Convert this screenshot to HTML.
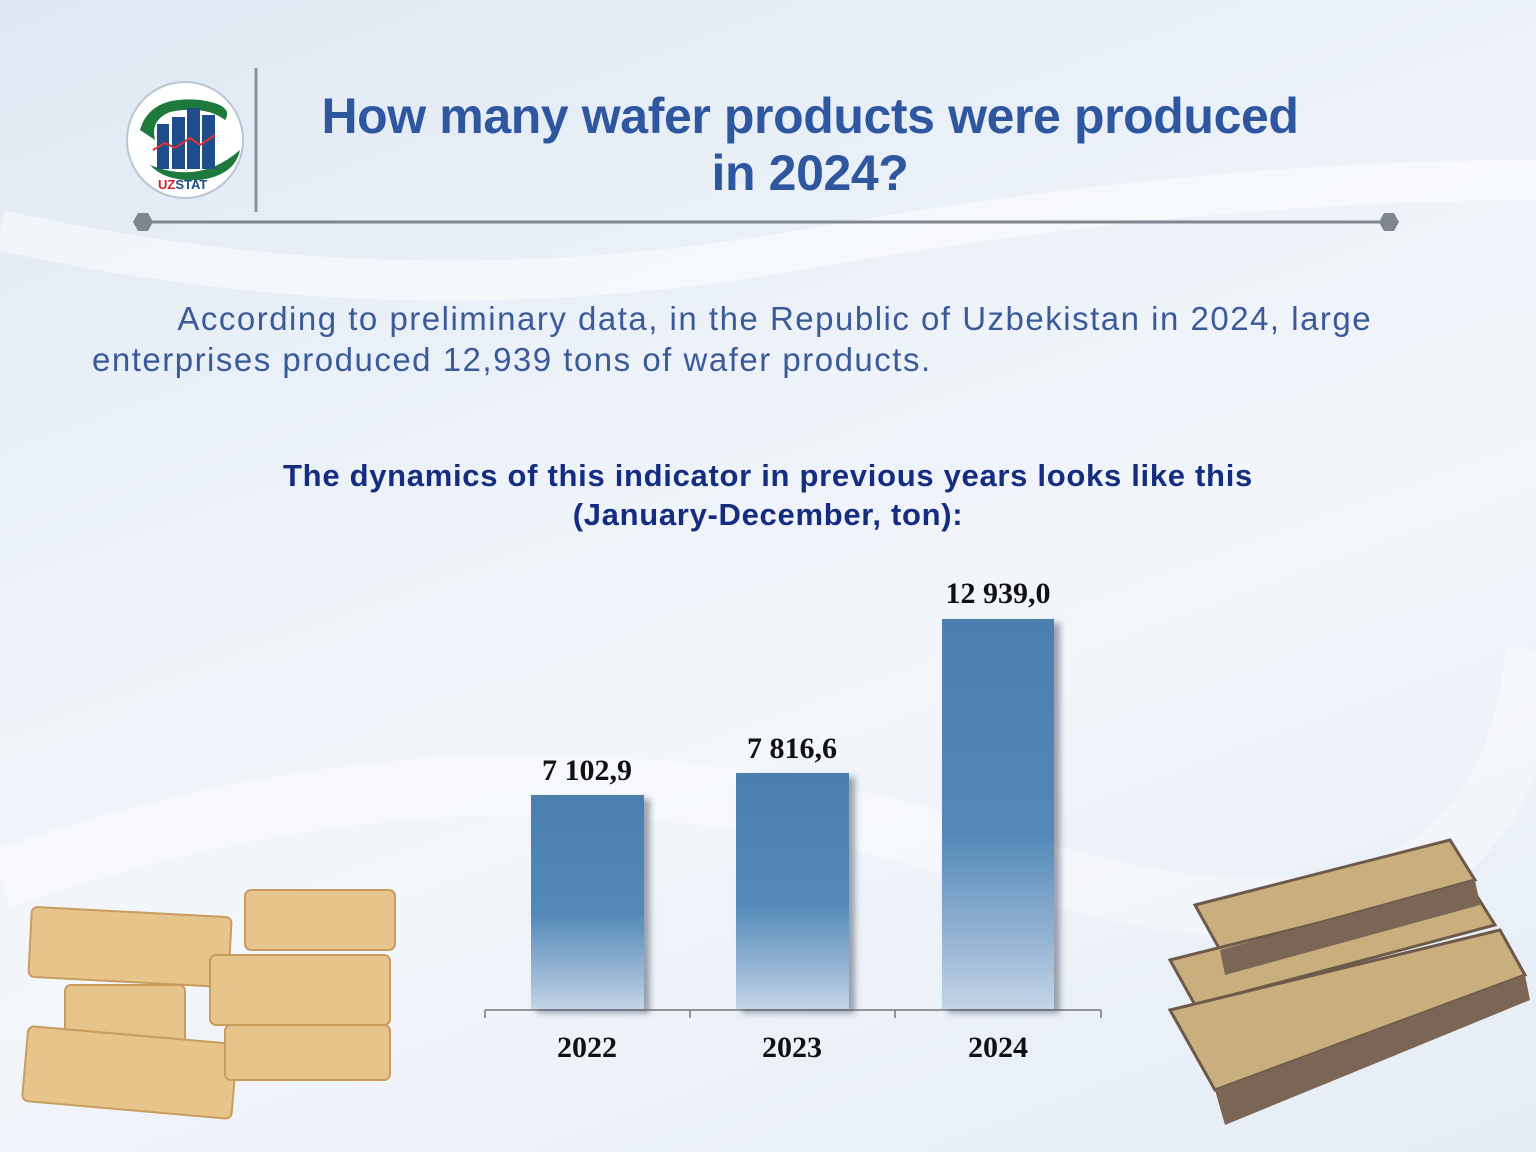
<!DOCTYPE html>
<html><head><meta charset="utf-8"><style>
body{margin:0;width:1536px;height:1152px;overflow:hidden;background:linear-gradient(160deg,#dfe8f3 0%,#eef3f9 40%,#f3f6fb 60%,#e4ecf5 100%);position:relative;font-family:"Liberation Sans",sans-serif}
.a{position:absolute}
.bar{position:absolute;background:linear-gradient(180deg,#4a7fae 0%,#5289b9 55%,#9cb9d6 85%,#c3d5e7 100%);box-shadow:6px 4px 6px rgba(80,90,110,.55)}
.lab{position:absolute;font-family:"Liberation Serif",serif;font-weight:bold;font-size:30px;color:#111;text-align:center;width:200px}
</style></head><body>
<svg class="a" style="left:0;top:0" width="1536" height="1152">
<path d="M0 230 Q400 320 800 250 T1536 180" stroke="#fff" stroke-opacity=".5" fill="none" stroke-width="40"/>
<path d="M0 880 Q500 700 1000 860 T1536 650" stroke="#fff" stroke-opacity=".35" fill="none" stroke-width="60"/>
<circle cx="185" cy="140" r="58" fill="#fff" stroke="#b8c6d4" stroke-width="2"/>
<path d="M140 130 Q150 95 200 100 Q235 105 225 120 Q205 105 170 112 Q150 120 155 140Z" fill="#1e7a3c"/>
<path d="M150 165 Q200 185 240 150 Q235 175 200 180 Q165 182 150 165Z" fill="#1e7a3c"/>
<rect x="157" y="124" width="12" height="45" fill="#1f4d8c"/><rect x="172" y="117" width="13" height="52" fill="#1f4d8c"/><rect x="187" y="108" width="13" height="61" fill="#1f4d8c"/><rect x="202" y="115" width="13" height="54" fill="#1f4d8c"/>
<polyline points="153,150 165,143 175,148 190,138 200,145 215,135" stroke="#d33" stroke-width="2" fill="none"/>
<text x="158" y="189" font-size="13" font-weight="bold" fill="#d02030" font-family="Liberation Sans">UZ<tspan fill="#1f4d8c">STAT</tspan></text>
<line x1="256" y1="68" x2="256" y2="212" stroke="#8a929c" stroke-width="3"/>
<line x1="143" y1="222" x2="1389" y2="222" stroke="#7f868e" stroke-width="3"/>
<polygon points="133,222 138,213 148,213 153,222 148,231 138,231" fill="#7f868e"/>
<polygon points="1379,222 1384,213 1394,213 1399,222 1394,231 1384,231" fill="#7f868e"/>
<line x1="485" y1="1010" x2="1101" y2="1010" stroke="#777" stroke-width="1.5"/>
<g stroke="#777" stroke-width="1.5"><line x1="485" y1="1010" x2="485" y2="1018"/><line x1="690" y1="1010" x2="690" y2="1018"/><line x1="895" y1="1010" x2="895" y2="1018"/><line x1="1101" y1="1010" x2="1101" y2="1018"/></g>
<g fill="#e6c48c" stroke="#c99d5e" stroke-width="2">
<rect x="30" y="912" width="200" height="70" rx="6" transform="rotate(3 130 947)"/>
<rect x="245" y="890" width="150" height="60" rx="6"/>
<rect x="210" y="955" width="180" height="70" rx="6"/>
<rect x="65" y="985" width="120" height="60" rx="6"/>
<rect x="25" y="1035" width="210" height="75" rx="6" transform="rotate(5 130 1070)"/>
<rect x="225" y="1025" width="165" height="55" rx="6"/>
</g>
<g fill="#c9ae7e" stroke="#6d5a4a" stroke-width="3">
<polygon points="1195,905 1450,840 1475,880 1220,950"/>
<polygon points="1170,960 1470,885 1495,925 1195,1005"/>
<polygon points="1170,1010 1500,930 1525,975 1215,1090"/>
</g>
<g fill="#7b6656"><polygon points="1220,950 1475,880 1480,905 1225,975"/><polygon points="1215,1090 1525,975 1530,1000 1225,1125"/></g>
</svg>
<div class="a" style="left:260px;top:88px;width:1100px;text-align:center;font-size:50px;font-weight:bold;color:#2f57a0;line-height:57px;letter-spacing:-0.4px">How many wafer products were produced<br>in 2024?</div>
<div class="a" style="left:92px;top:298px;width:1320px;font-size:33px;color:#3a5a9a;line-height:41px;letter-spacing:1.5px">&nbsp;&nbsp;&nbsp;&nbsp;&nbsp;&nbsp;&nbsp;&nbsp;According to preliminary data, in the Republic of Uzbekistan in 2024, large enterprises produced 12,939 tons of wafer products.</div>
<div class="a" style="left:168px;top:456px;width:1200px;text-align:center;font-size:31px;font-weight:bold;color:#142d80;line-height:39px;letter-spacing:0.7px">The dynamics of this indicator in previous years looks like this<br>(January-December, ton):</div>
<div class="bar" style="left:531px;top:795px;width:113px;height:214px"></div>
<div class="bar" style="left:736px;top:773px;width:113px;height:236px"></div>
<div class="bar" style="left:942px;top:619px;width:112px;height:390px"></div>
<div class="lab" style="left:487px;top:754px">7 102,9</div>
<div class="lab" style="left:692px;top:732px">7 816,6</div>
<div class="lab" style="left:898px;top:577px">12 939,0</div>
<div class="lab" style="left:487px;top:1031px">2022</div>
<div class="lab" style="left:692px;top:1031px">2023</div>
<div class="lab" style="left:898px;top:1031px">2024</div>
</body></html>
